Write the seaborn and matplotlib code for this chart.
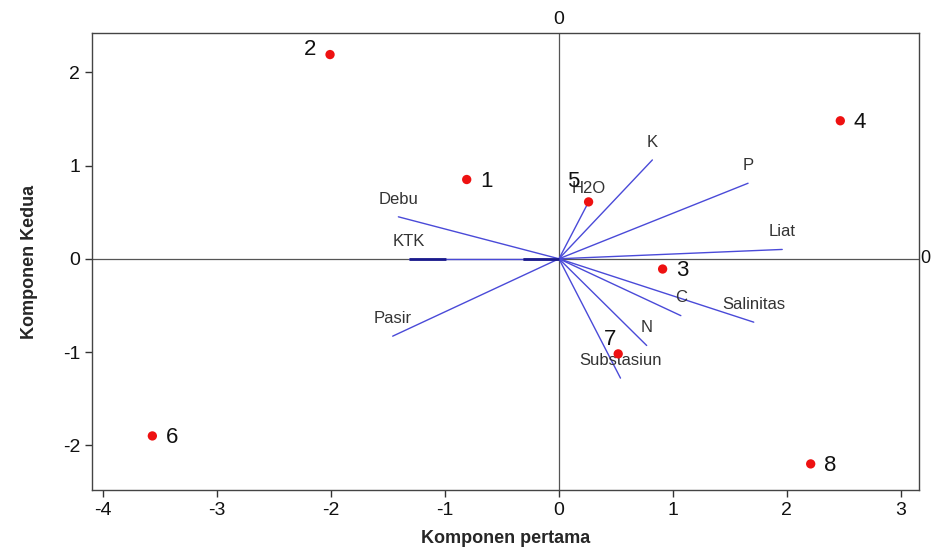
import matplotlib
matplotlib.use("Agg")
import matplotlib.pyplot as plt
import seaborn as sns
import pandas as pd

# Observation scores (sites)
site_labels = ["1", "2", "3", "4", "5", "6", "7", "8"]
site_x = [-0.81, -2.01, 0.91, 2.47, 0.26, -3.57, 0.52, 2.21]
site_y = [0.85, 2.19, -0.11, 1.48, 0.61, -1.90, -1.02, -2.20]

# Variable loadings (vectors)
var_names = ["K", "P", "Liat", "Debu", "KTK", "Pasir", "Salinitas", "C", "N", "Substasiun", "H2O"]
var_x = [0.82, 1.66, 1.96, -1.41, -1.32, -1.46, 1.71, 1.07, 0.77, 0.54, 0.26]
var_y = [1.06, 0.81, 0.10, 0.45, 0.00, -0.83, -0.68, -0.61, -0.93, -1.28, 0.61]

x_ticks = [-4, -3, -2, -1, 0, 1, 2, 3]
y_ticks = [-2, -1, 0, 1, 2]

sns.set_style("ticks")
plt.rcParams["font.family"] = ["DejaVu Sans Condensed", "Liberation Sans", "DejaVu Sans"]
plt.rcParams["axes.unicode_minus"] = False

fig = plt.figure(figsize=(9.31, 5.52), dpi=100)
ax = fig.add_axes([0.0988, 0.1123, 0.8882, 0.8277])

ax.axhline(0, color="#555555", lw=0.9, zorder=1)
ax.axvline(0, color="#555555", lw=0.9, zorder=1)

label_dy = {"H2O": 0.06}
for name, vx, vy in zip(var_names, var_x, var_y):
    ax.plot([0, vx], [0, vy], color="#4a4ad8", lw=1.0, zorder=2)
    ax.text(vx, vy + label_dy.get(name, 0.11), name, ha="center", va="bottom",
            fontsize=12, color="#333333",
            family=["Liberation Sans", "DejaVu Sans"], zorder=4)

# darker overlapping segments of KTK along the axis
ax.plot([var_x[4], 0], [0, 0], color="#1a1a8c", lw=2.0, dashes=(13.3, 27.7), zorder=2)

df = pd.DataFrame({"x": site_x, "y": site_y, "label": site_labels})
sns.scatterplot(data=df, x="x", y="y", color="#ee1111", s=45, edgecolor="none",
                ax=ax, zorder=5, legend=False)

offsets = {"2": (-0.12, 0.05, "right"), "5": (-0.08, 0.22, "right"),
           "7": (-0.02, 0.15, "right")}
for lab, px, py in zip(site_labels, site_x, site_y):
    dx, dy, ha = offsets.get(lab, (0.12, -0.02, "left"))
    ax.text(px + dx, py + dy, lab, ha=ha, va="center", fontsize=16,
            color="#111111", family=["Liberation Sans", "DejaVu Sans"], zorder=6)

ax.set_xlim(-4.10, 3.16)
ax.set_ylim(-2.48, 2.42)
ax.set_xticks(x_ticks)
ax.set_yticks(y_ticks)
ax.tick_params(axis="both", labelsize=14, length=5, width=1, color="#333333",
               labelcolor="#111111", direction="out")
for sp in ax.spines.values():
    sp.set_color("#444444")
    sp.set_linewidth(1.0)

ax.set_xlabel("Komponen pertama", fontsize=13, fontweight="bold",
              family=["Liberation Sans", "DejaVu Sans"], labelpad=8)
ax.set_ylabel("Komponen Kedua", fontsize=13, fontweight="bold",
              family=["Liberation Sans", "DejaVu Sans"], labelpad=18)

# zero labels on the top and right
ax.text(0, 1.012, "0", transform=ax.get_xaxis_transform(), ha="center",
        va="bottom", fontsize=14, color="#111111")
ax.text(1.002, 0, "0", transform=ax.get_yaxis_transform(), ha="left",
        va="center", fontsize=13, color="#111111")

fig.savefig("out.png", dpi=100, facecolor="white")
